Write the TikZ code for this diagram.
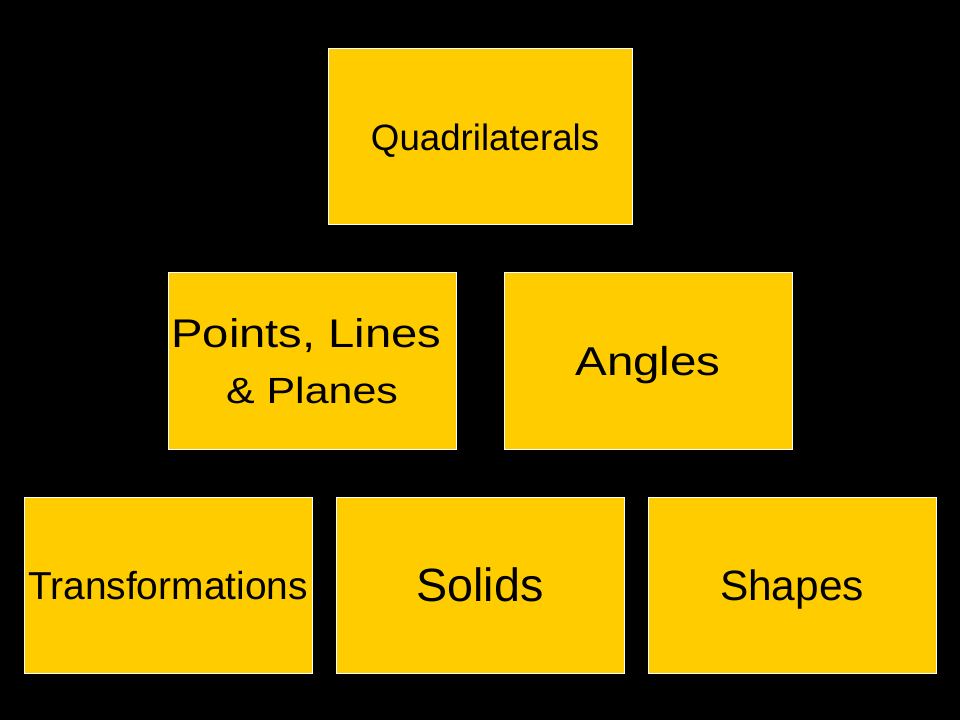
\documentclass[tikz,border=0pt]{standalone}
\usepackage{fontspec}
\setmainfont{Liberation Sans}
\newfontfamily\widesans[FakeStretch=1.18]{Liberation Sans}
\usetikzlibrary{positioning}
\definecolor{tileyellow}{HTML}{FFCC00}

\begin{document}
\begin{tikzpicture}[node distance=36pt,
  topic node/.style={rectangle,draw=white,line width=0.75pt,fill=tileyellow,text=black,
    inner sep=0pt,outer sep=0pt,minimum width=216pt,minimum height=132pt,align=center},
  flat node/.style={topic node,text depth=0pt}]

  \fill[black] (0,0) rectangle (720pt,-540pt);
  \useasboundingbox (0,0) rectangle (720pt,-540pt);

  \node[flat node,minimum width=228pt,font=\fontsize{27.5}{33}\selectfont] (quad) at (360pt,-102.75pt) {\hspace*{0.278em}Quadrilaterals};
  \node[topic node,font=\widesans\fontsize{27.3}{42}\selectfont] (plp) [below=of quad,xshift=-126pt]
    {{\widesans\fontsize{30}{42}\selectfont Points, Lines\hspace*{0.278em}}\\{\widesans\fontsize{27.3}{42}\selectfont\&~Planes}};
  \node[flat node,font=\widesans\fontsize{30.2}{36}\selectfont] (angles) [right=of plp] {Angles};

  \node[flat node,font=\fontsize{35}{42}\selectfont] (solids) [below=of plp,xshift=126pt] {Solids};
  \node[flat node,font=\fontsize{29.2}{35}\selectfont] (transf) [left=18pt of solids] {Transformations};
  \node[flat node,font=\fontsize{31.8}{38}\selectfont] (shapes) [right=18pt of solids] {Shapes};

\end{tikzpicture}
\end{document}
